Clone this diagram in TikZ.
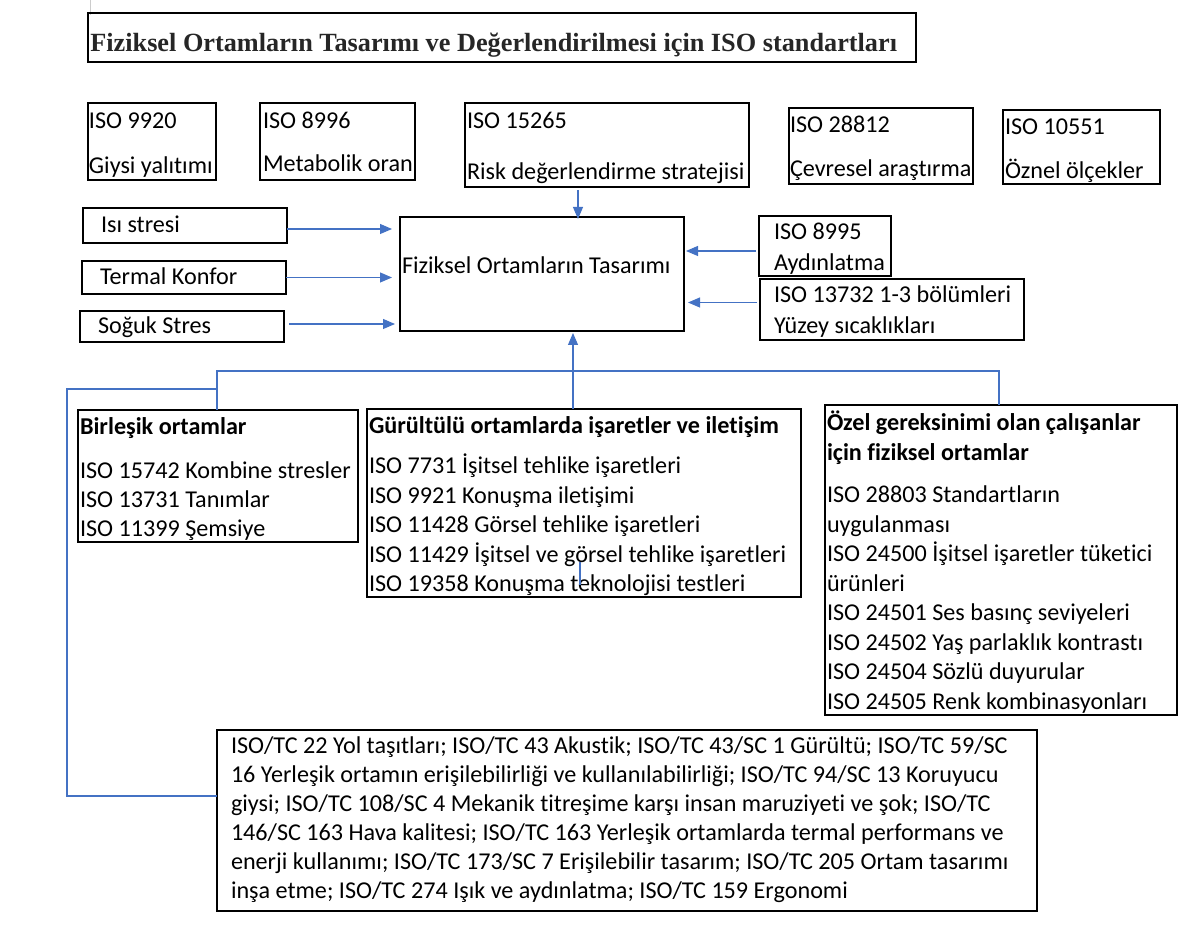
\documentclass[tikz,border=0pt]{standalone}
\usepackage{fontspec}
\setmainfont{Carlito}[Ligatures=NoCommon]
\newfontfamily\titlefont{Liberation Serif}
\usetikzlibrary{arrows.meta}
\definecolor{connblue}{HTML}{4472C4}
\newcommand\stk[2][0.585cm]{\vtop{\baselineskip=#1\lineskiplimit=-100pt\lineskip=0pt #2}}
\newcommand\bx[5]{\node[box, anchor=north west, minimum width={(#4-#2)*0.02cm}, minimum height={(#5-#3)*0.02cm}] (#1) at (#2,#3) {};}
\tikzset{
  box/.style={draw=black, line width=1.1pt, inner sep=0pt, outer sep=0pt, rectangle},
  txt/.style={anchor=base west, inner sep=0pt, outer sep=0pt, font=\fontsize{13.75pt}{16pt}\selectfont},
  hdr/.style={txt, font=\fontsize{13.75pt}{16pt}\selectfont\bfseries},
  conn/.style={draw=connblue, line width=0.6pt},
  arr/.style={conn, -{Triangle[length=0.24cm,width=0.2cm]}},
}
\begin{document}
\begin{tikzpicture}[x=0.02cm,y=-0.02cm]
\useasboundingbox (0,0) rectangle (1198,928);
% faint mark at top
\coordinate (m1) at (90,0); \coordinate (m2) at (90,15);
\draw[gray!40, line width=0.4pt] (m1) -- (m2);
% title
\bx{title}{88}{13}{916}{62}
\node[anchor=base west, inner sep=0pt, font=\titlefont\fontsize{14.95pt}{18pt}\selectfont\bfseries, text=black!85] (titletxt) at (90,52) {Fiziksel Ortamların Tasarımı ve Değerlendirilmesi için ISO standartları};
% top row
\bx{b9920}{88}{103}{216}{180}
\node[txt] (t9920) at (89,129) {\stk[0.9cm]{\hbox{ISO 9920}\hbox{Giysi yalıtımı}}};
\bx{b8996}{260}{103}{415}{180}
\node[txt] (t8996) at (263,129) {\stk[0.86cm]{\hbox{ISO 8996}\hbox{Metabolik oran}}};
\bx{b15265}{465}{103}{749}{187}
\node[txt] (t15265) at (467,129) {\stk[1.02cm]{\hbox{ISO 15265}\hbox{Risk değerlendirme stratejisi}}};
\bx{b28812}{789}{108}{973}{184}
\node[txt] (t28812) at (790,133) {\stk[0.88cm]{\hbox{ISO 28812}\hbox{Çevresel araştırma}}};
\bx{b10551}{1003}{110}{1160}{184}
\node[txt] (t10551) at (1005,135) {\stk[0.88cm]{\hbox{ISO 10551}\hbox{Öznel ölçekler}}};
% left boxes
\bx{isi}{83}{208}{287}{243}
\node[txt] (tisi) at (101,233) {Isı stresi};
\bx{termal}{82}{261}{286}{294}
\node[txt] (ttermal) at (100,285) {Termal Konfor};
\bx{soguk}{80}{311}{284}{342}
\node[txt] (tsoguk) at (98,334) {Soğuk Stres};
% central
\bx{central}{400}{217}{684}{331}
\node[txt] (tcentral) at (402,274) {Fiziksel Ortamların Tasarımı};
% right boxes
\bx{b8995}{759}{216}{891}{276}
\node[txt] (t8995) at (774,240) {\stk[0.61cm]{\hbox{ISO 8995}\hbox{Aydınlatma}}};
\bx{b13732}{760}{279}{1024}{340}
\node[txt] (t13732) at (774,303) {\stk[0.61cm]{\hbox{ISO 13732 1-3 bölümleri}\hbox{Yüzey sıcaklıkları}}};
% lower boxes
\bx{birl}{78}{410}{358}{542}
\node[hdr] (hbirl) at (80,435) {Birleşik ortamlar};
\node[txt] (tbirl) at (80,479) {\stk[0.58cm]{\hbox{ISO 15742 Kombine stresler}\hbox{ISO 13731 Tanımlar}\hbox{ISO 11399 Şemsiye}}};
\bx{gur}{367}{409}{801}{597}
\node[hdr] (hgur) at (369,434) {Gürültülü ortamlarda işaretler ve iletişim};
\node[txt] (tgur) at (369,474) {\stk[0.59cm]{\hbox{ISO 7731 İşitsel tehlike işaretleri}\hbox{ISO 9921 Konuşma iletişimi}\hbox{ISO 11428 Görsel tehlike işaretleri}\hbox{ISO 11429 İşitsel ve görsel tehlike işaretleri}\hbox{ISO 19358 Konuşma teknolojisi testleri}}};
\bx{ozel}{825}{405}{1177}{715}
\node[hdr] (hozel) at (827,431) {\stk[0.6cm]{\hbox{Özel gereksinimi olan çalışanlar}\hbox{için fiziksel ortamlar}}};
\node[txt] (tozel) at (827,503) {\stk[0.59cm]{\hbox{ISO 28803 Standartların}\hbox{uygulanması}\hbox{ISO 24500 İşitsel işaretler tüketici}\hbox{ürünleri}\hbox{ISO 24501 Ses basınç seviyeleri}\hbox{ISO 24502 Yaş parlaklık kontrastı}\hbox{ISO 24504 Sözlü duyurular}\hbox{ISO 24505 Renk kombinasyonları}}};
\bx{bottom}{217}{730}{1037}{911}
\node[txt] (tbottom) at (231,754) {\stk[0.58cm]{\hbox{ISO/TC 22 Yol taşıtları; ISO/TC 43 Akustik; ISO/TC 43/SC 1 Gürültü; ISO/TC 59/SC}\hbox{16 Yerleşik ortamın erişilebilirliği ve kullanılabilirliği; ISO/TC 94/SC 13 Koruyucu}\hbox{giysi; ISO/TC 108/SC 4 Mekanik titreşime karşı insan maruziyeti ve şok; ISO/TC}\hbox{146/SC 163 Hava kalitesi; ISO/TC 163 Yerleşik ortamlarda termal performans ve}\hbox{enerji kullanımı; ISO/TC 173/SC 7 Erişilebilir tasarım; ISO/TC 205 Ortam tasarımı}\hbox{inşa etme; ISO/TC 274 Işık ve aydınlatma; ISO/TC 159 Ergonomi}}};
% arrows into central
\draw[arr, shorten >=0.16cm] ([yshift=-0.07cm]isi.east) -- ([yshift=-0.07cm]isi.east -| central.west);
\draw[arr, shorten >=0.16cm] (termal.east) -- (termal.east -| central.west);
\draw[arr, shorten <=0.1cm, shorten >=0.1cm] ([yshift=0.05cm]soguk.east) -- ([yshift=0.05cm]soguk.east -| central.west);
\coordinate (c15) at (578,0);
\draw[arr, shorten <=0.06cm, shorten >=-0.04cm] (c15 |- b15265.south) -- (c15 |- central.north);
\draw[arr, shorten <=0.06cm, shorten >=0.04cm] ([yshift=-0.1cm]b8995.west) -- ([yshift=-0.1cm]b8995.west -| central.east);
\draw[arr, shorten <=0.06cm, shorten >=0.08cm] ([yshift=0.14cm]b13732.west) -- ([yshift=0.14cm]b13732.west -| central.east);
% tree
\coordinate (j1) at (217,371);
\coordinate (j2) at (573,371);
\coordinate (j3) at (999,371);
\coordinate (j0) at (217,389);
\coordinate (k1) at (67,389);
\coordinate (k2) at (67,796);
\draw[conn] (j1 |- birl.north) -- (j1) -- (j3) -- (j3 |- ozel.north);
\draw[arr, shorten >=0.04cm] (j2 |- gur.north) -- (j2 |- central.south);
\draw[conn] (j0) -- (k1) -- (k2) -- (k2 -| bottom.west);
% stray segment inside box
\coordinate (s1) at (580,562); \coordinate (s2) at (580,585);
\draw[conn] (s1) -- (s2);
\end{tikzpicture}
\end{document}
